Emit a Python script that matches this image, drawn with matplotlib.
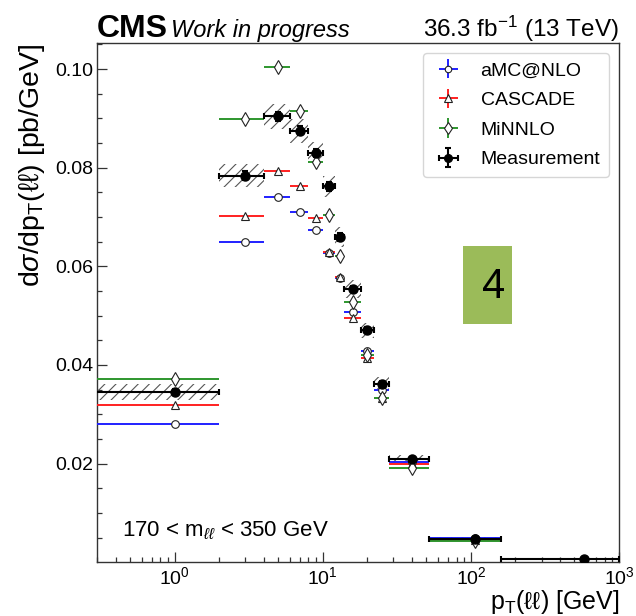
import numpy as np
import matplotlib
matplotlib.use("Agg")
import matplotlib.pyplot as plt
from matplotlib.patches import Rectangle
from matplotlib.ticker import MultipleLocator, LogLocator, FormatStrFormatter, NullFormatter

plt.rcParams["font.family"] = ["Liberation Sans", "DejaVu Sans"]
plt.rcParams["mathtext.fontset"] = "custom"
plt.rcParams["mathtext.rm"] = "Liberation Sans"
plt.rcParams["mathtext.it"] = "Liberation Sans:italic"
plt.rcParams["mathtext.bf"] = "Liberation Sans:bold"
plt.rcParams["mathtext.sf"] = "Liberation Sans"
plt.rcParams["mathtext.fallback"] = "cm"
plt.rcParams["hatch.linewidth"] = 0.8
plt.rcParams["hatch.color"] = "#555555"

# pT(ll) bin edges [GeV]
bin_edges = [0, 2, 4, 6, 8, 10, 12, 14, 18, 22, 28, 52, 160, 1000]

# measured cross section [pb/GeV] with statistical and systematic uncertainties
measurement = [0.0345, 0.0784, 0.0904, 0.0875, 0.0830, 0.0762, 0.0660,
               0.0554, 0.0470, 0.0362, 0.0210, 0.0047, 0.0006]
stat_unc = [0.0006, 0.0009, 0.0009, 0.0009, 0.0009, 0.0009, 0.0008,
            0.0007, 0.0006, 0.0006, 0.0004, 0.0002, 0.0001]
syst_unc = [0.0017, 0.0024, 0.0025, 0.0024, 0.0022, 0.0022, 0.0020,
            0.0018, 0.0016, 0.0014, 0.0008, 0.0004, 0.0001]

# predictions [pb/GeV]
amcnlo = [0.0281, 0.0649, 0.0741, 0.0711, 0.0673, 0.0628, 0.0577,
          0.0508, 0.0429, 0.0349, 0.0203, 0.0050]
cascade = [0.0318, 0.0702, 0.0793, 0.0763, 0.0699, 0.0630, 0.0578,
           0.0495, 0.0414, 0.0334, 0.0200, 0.0046]
minnlo = [0.0372, 0.0899, 0.1005, 0.0916, 0.0811, 0.0704, 0.0620,
          0.0527, 0.0421, 0.0332, 0.0191, 0.0042]

W, H = 636, 616
fig = plt.figure(figsize=(W / 100, H / 100), dpi=100)
ax = fig.add_axes([97.3 / W, 1 - 561.7 / H, 521.7 / W, 518.7 / H])

edges = np.array(bin_edges, dtype=float)
lo, hi = edges[:-1], edges[1:]
centers = 0.5 * (lo + hi)

ax.set_xscale("log")
ax.set_xlim(0.3, 1000)
ax.set_ylim(0.0001, 0.1053)

# systematic uncertainty bands
meas = np.array(measurement)
syst = np.array(syst_unc)
for l, h, m, s in zip(lo, hi, meas, syst):
    ax.add_patch(Rectangle((l, m - s), h - l, 2 * s, fill=False, hatch="///",
                           edgecolor="#555555", linewidth=0, zorder=2))

models = [
    (amcnlo, "aMC@NLO", "#2020ff", "o", 5.5),
    (cascade, "CASCADE", "#ff2020", "^", 6.0),
    (minnlo, "MiNNLO", "#2e962e", "d", 7.3),
]
handles = []
for vals, label, col, mk, ms in models:
    n = len(vals)
    c = centers[:n]
    hb = ax.errorbar(c, vals, xerr=[c - lo[:n], hi[:n] - c], yerr=np.zeros(n),
                     fmt=mk, color=col, ecolor=col, mfc="white", mec="#222222",
                     mew=0.8, ms=ms, elinewidth=1.4, capsize=0, label=label,
                     zorder=3)
    handles.append(hb)

hm = ax.errorbar(centers, meas, xerr=[centers - lo, hi - centers], yerr=stat_unc,
                 fmt="o", color="black", ms=6.5, elinewidth=1.5, capsize=2.2,
                 capthick=1.5, label="Measurement", zorder=5)
handles.append(hm)

# axes style
ax.tick_params(which="both", direction="in", top=False, right=False,
               labelsize=14, color="#333333")
ax.tick_params(which="major", length=7.2, width=0.9, pad=3)
ax.tick_params(which="minor", length=3.6, width=0.9)
ax.yaxis.set_major_locator(MultipleLocator(0.02))
ax.yaxis.set_minor_locator(MultipleLocator(0.005))
ax.yaxis.set_major_formatter(FormatStrFormatter("%.2f"))
ax.xaxis.set_major_locator(LogLocator(base=10, numticks=10))
ax.xaxis.set_minor_locator(LogLocator(base=10, subs=np.arange(2, 10), numticks=20))
ax.xaxis.set_minor_formatter(NullFormatter())
for sp in ax.spines.values():
    sp.set_linewidth(1.0)
    sp.set_color("#333333")

ax.set_ylabel(r"d$\sigma$/dp$_{\mathrm{T}}$(ℓℓ) [pb/GeV]", fontsize=20.5, loc="top",
              labelpad=6)
ax.set_xlabel(r"p$_{\mathrm{T}}$(ℓℓ) [GeV]", fontsize=18, loc="right", labelpad=0.5)

leg = ax.legend(handles=handles, loc="upper right",
                bbox_to_anchor=(609 / W, 1 - 53 / H), bbox_transform=fig.transFigure,
                fontsize=14, frameon=True, fancybox=True, borderpad=0.45,
                handlelength=1.7, handletextpad=0.8, labelspacing=0.62,
                borderaxespad=0, markerscale=0.85)
leg.get_frame().set_edgecolor("#cccccc")
leg.get_frame().set_linewidth(1.0)

ax.text((121.7 - 97.3) / 521.7, (561.7 - 535) / 518.7,
        r"170 < m$_{\ell\ell}$ < 350 GeV", transform=ax.transAxes,
        fontsize=16, va="baseline", ha="left")

# header
fig.text(97 / W, 1 - 37 / H, "CMS", fontsize=23, fontweight="bold",
         va="baseline", ha="left")
fig.text(171 / W, 1 - 37 / H, "Work in progress", fontsize=17, style="italic",
         va="baseline", ha="left")
fig.text(619 / W, 1 - 37 / H, r"36.3 fb$^{-1}$ (13 TeV)", fontsize=17.5,
         va="baseline", ha="right")

# slide number tag
fig.patches.append(Rectangle((463 / W, 1 - 324 / H), 49 / W, 78.3 / H,
                             transform=fig.transFigure, facecolor="#9bbb59",
                             edgecolor="none", zorder=10))
fig.text(494 / W, 1 - 287 / H, "4", fontsize=30, color="black",
         ha="center", va="center", zorder=11)

fig.savefig("out.png", dpi=100)
